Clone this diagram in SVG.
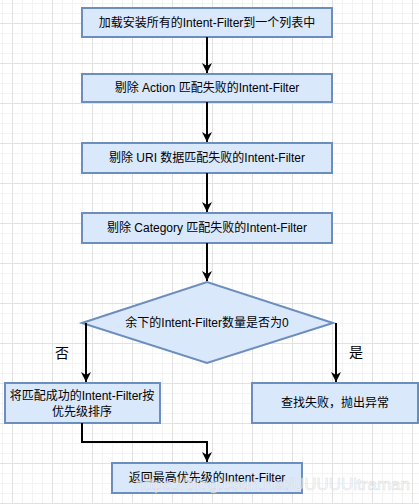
<svg xmlns="http://www.w3.org/2000/svg" width="419" height="504" viewBox="0 0 419 504">
<defs>
<pattern id="grid" patternUnits="userSpaceOnUse" x="12" y="23" width="40" height="40">
<path d="M10.5,0V40M20.5,0V40M30.5,0V40M0,10.5H40M0,20.5H40M0,30.5H40" stroke="#f3f3f3" stroke-width="1" fill="none"/>
<path d="M0.5,0V40M0,0.5H40" stroke="#e2e2e2" stroke-width="1" fill="none"/>
</pattern>
<marker id="arr" markerUnits="userSpaceOnUse" markerWidth="11" markerHeight="11" refX="10" refY="5.5" orient="auto">
<path d="M0,0.5 L10,5.5 L0,10.5 L3,5.5 Z" fill="#000"/>
</marker>
</defs>
<style>
.box{fill:#dae8fc;stroke:#6c8ebf;stroke-width:2}
.t{font-family:"Liberation Sans","Noto Sans CJK SC",sans-serif;font-size:12px;fill:#000;text-anchor:middle;dominant-baseline:central}
.lbl{font-family:"Liberation Sans","Noto Sans CJK SC",sans-serif;font-size:14px;fill:#000;text-anchor:middle;dominant-baseline:central}
.e{fill:none;stroke:#000;stroke-width:2;marker-end:url(#arr)}
</style>
<rect width="419" height="504" fill="#fff"/>
<rect width="419" height="504" fill="url(#grid)"/>
<g id="n1"><rect class="box" x="82" y="8" width="250" height="29"/><text class="t" x="207" y="23">加载安装所有的Intent-Filter到一个列表中</text></g>
<g id="n2"><rect class="box" x="82" y="74" width="250" height="28"/><text class="t" x="207" y="88">剔除 Action 匹配失败的Intent-Filter</text></g>
<g id="n3"><rect class="box" x="82" y="143" width="250" height="30"/><text class="t" x="207" y="158">剔除 URI 数据匹配失败的Intent-Filter</text></g>
<g id="n4"><rect class="box" x="82" y="213" width="250" height="30"/><text class="t" x="207" y="228">剔除 Category 匹配失败的Intent-Filter</text></g>
<g id="n5"><polygon class="box" points="82,323 207,282 333,323 207,363"/><text class="t" x="207" y="323">余下的Intent-Filter数量是否为0</text></g>
<g id="n6"><rect class="box" x="5" y="383" width="155" height="40"/><text class="t" x="82" y="396">将匹配成功的Intent-Filter按</text><text class="t" x="82" y="412">优先级排序</text></g>
<g id="n7"><rect class="box" x="252" y="383" width="166" height="40"/><text class="t" x="335" y="403">查找失败，抛出异常</text></g>
<g id="n8"><rect class="box" x="112" y="463" width="190" height="30"/><text class="t" x="207" y="478">返回最高优先级的Intent-Filter</text></g>
<g id="edges">
<path class="e" d="M207,37V73"/>
<path class="e" d="M207,102V142"/>
<path class="e" d="M207,173V212"/>
<path class="e" d="M207,243V281"/>
<path class="e" d="M86,323V382"/>
<path class="e" d="M336,323V382"/>
<path class="e" d="M82,423V442H207V462"/>
<text class="lbl" x="62" y="353">否</text>
<text class="lbl" x="356" y="352">是</text>
</g>
<text x="410" y="490" text-anchor="end" font-family="Liberation Sans,Arial,sans-serif" font-size="17" fill="#ffffff" fill-opacity="0.6" stroke="#c8c8c8" stroke-opacity="0.6" stroke-width="0.6">https://blog.csdn.net/UUUUUltraman</text>
</svg>
